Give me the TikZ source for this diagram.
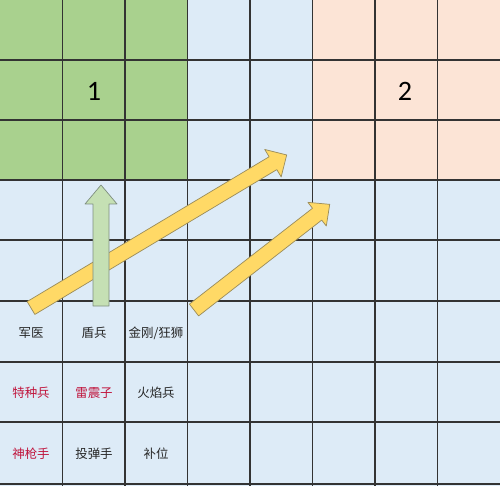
\documentclass[tikz,border=0pt]{standalone}
\usepackage{fontspec}
\setmainfont{Carlito}
\newfontfamily\cjk{Noto Sans CJK SC}
\usetikzlibrary{calc}
\definecolor{cellblue}{HTML}{DDEBF7}
\definecolor{cellgreen}{HTML}{A9D18E}
\definecolor{cellpeach}{HTML}{FCE4D6}
\definecolor{arrowyellow}{HTML}{FFD966}
\definecolor{arrowedge}{HTML}{9A8C5A}
\definecolor{arrowgreen}{HTML}{C5E0B4}
\definecolor{greenedge}{HTML}{7F8F80}
\definecolor{unitred}{HTML}{C0143C}
\tikzset{
    x=0.02cm, y=-0.02cm,
    gridline/.style={draw=black!80, line width=0.7pt},
    unit/.style={font=\cjk\fontsize{7.1}{8}\selectfont, text=black!85},
    hotunit/.style={unit, text=unitred},
    zone/.style={font=\fontsize{16}{18}\selectfont},
    yarrow/.style={fill=arrowyellow, draw=arrowedge, line width=0.4pt, line join=round},
    garrow/.style={fill=arrowgreen, draw=greenedge, line width=0.4pt, line join=round},
}

\begin{document}
\begin{tikzpicture}
    \useasboundingbox (0,0) rectangle (500,486);

    % zones
    \fill[cellblue] (0,0) rectangle (500,486);
    \fill[cellgreen] (0,0) rectangle (187.5,180);
    \fill[cellpeach] (312.5,0) rectangle (500,180);

    % grid
    \foreach \x in {62.5,125,187.5,250,312.5,375,437.5}
        \draw[gridline] (\x,0) -- (\x,486);
    \foreach \y in {60,120,180,240,301,362,422,484}
        \draw[gridline] (0,\y) -- (500,\y);

    \node[zone] (zone1) at (94,91) {1};
    \node[zone] (zone2) at (405,91) {2};

    % units
    \node[unit] (medic) at (31,333) {军医};
    \node[unit] (shield) at (94,333) {盾兵};
    \node[unit] (kingkong) at (156,333) {金刚/狂狮};
    \node[hotunit] (special) at (31,393) {特种兵};
    \node[hotunit] (thunder) at (94,393) {雷震子};
    \node[unit] (flame) at (156,393) {火焰兵};
    \node[hotunit] (sniper) at (31,454) {神枪手};
    \node[unit] (bomber) at (94,454) {投弹手};
    \node[unit] (reserve) at (156,454) {补位};

    % moves
    \begin{scope}[shift={(31,308)}, rotate=30.9]
        \draw[yarrow] (0,-7.5) -- (282,-7.5) -- (282,-16) -- (298,0)
            -- (282,16) -- (282,7.5) -- (0,7.5) -- cycle;
    \end{scope}
    \begin{scope}[shift={(194,310)}, rotate=37.9]
        \draw[yarrow] (0,-7.5) -- (156,-7.5) -- (156,-15) -- (172,0)
            -- (156,15) -- (156,7.5) -- (0,7.5) -- cycle;
    \end{scope}
    \begin{scope}[shift={(101,306)}, rotate=90]
        \draw[garrow] (0,-8) -- (102,-8) -- (102,-16) -- (121,0)
            -- (102,16) -- (102,8) -- (0,8) -- cycle;
    \end{scope}
\end{tikzpicture}
\end{document}
